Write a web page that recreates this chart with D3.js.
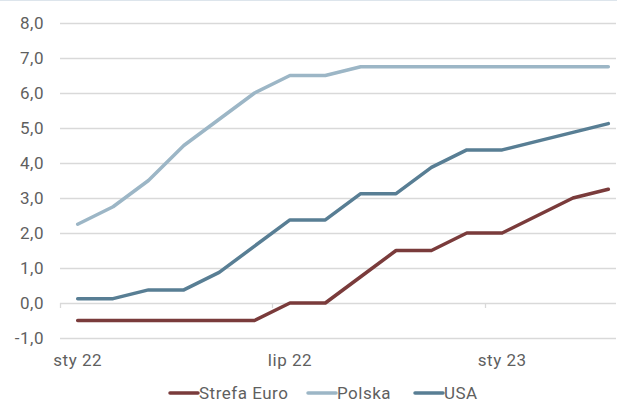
<!DOCTYPE html>
<html>
<head>
<meta charset="utf-8">
<script src="https://cdn.jsdelivr.net/npm/d3@7"></script>
<style>
  body { margin: 0; background: #fff; }
  svg text { font-family: Roboto, "Liberation Sans", sans-serif; fill: #5f5f5f; letter-spacing: 0.5px; }
</style>
</head>
<body>
<div id="chart"></div>
<script>
// months Jan 2022 .. Apr 2023
const months = ['2022-01', '2022-02', '2022-03', '2022-04', '2022-05', '2022-06',
  '2022-07', '2022-08', '2022-09', '2022-10', '2022-11', '2022-12',
  '2023-01', '2023-02', '2023-03', '2023-04'];
const monthLabels = {'2022-01': 'sty 22', '2022-07': 'lip 22', '2023-01': 'sty 23'};

const euro = [-0.5, -0.5, -0.5, -0.5, -0.5, -0.5, 0.0, 0.0, 0.75, 1.5, 1.5, 2.0, 2.0, 2.5, 3.0, 3.25];
const polska = [2.25, 2.75, 3.5, 4.5, 5.25, 6.0, 6.5, 6.5, 6.75, 6.75, 6.75, 6.75, 6.75, 6.75, 6.75, 6.75];
const usa = [0.125, 0.125, 0.375, 0.375, 0.875, 1.625, 2.375, 2.375, 3.125, 3.125, 3.875, 4.375, 4.375, 4.625, 4.875, 5.125];

const yTicks = [-1, 0, 1, 2, 3, 4, 5, 6, 7, 8];

const series = [
  {name: 'Strefa Euro', values: euro, color: '#7a3b3b'},
  {name: 'Polska', values: polska, color: '#9cb6c6'},
  {name: 'USA', values: usa, color: '#587e94'}
];

const width = 617, height = 402;
const svg = d3.select('#chart').append('svg')
  .attr('width', width)
  .attr('height', height);

// thin frame line at the very top
svg.append('line')
  .attr('x1', 0).attr('x2', width)
  .attr('y1', 0.5).attr('y2', 0.5)
  .attr('stroke', '#dde5ec');

const x = d3.scaleBand().domain(months).range([60, 626]);
const y = d3.scaleLinear().domain([-1, 8]).range([338, 23]);

// grid
svg.append('g')
  .selectAll('line')
  .data(yTicks)
  .join('line')
  .attr('x1', 60).attr('x2', 616)
  .attr('y1', d => Math.round(y(d)) + 0.5)
  .attr('y2', d => Math.round(y(d)) + 0.5)
  .attr('stroke', '#d9d9d9')
  .attr('stroke-width', 1.3);

// y labels, comma decimals and plain hyphen
svg.append('g')
  .selectAll('text')
  .data(yTicks)
  .join('text')
  .attr('x', 44)
  .attr('y', d => y(d))
  .attr('dy', '0.35em')
  .attr('text-anchor', 'end')
  .style('font-size', '17px')
  .text(d => d.toFixed(1).replace('.', ','));

// tick marks on zero line at half-year boundaries
const tickMonths = ['2022-01', '2022-07', '2023-01'];
svg.append('g')
  .selectAll('line')
  .data(tickMonths)
  .join('line')
  .attr('x1', d => Math.round(x(d)) + 0.5)
  .attr('x2', d => Math.round(x(d)) + 0.5)
  .attr('y1', y(0))
  .attr('y2', y(0) + 5)
  .attr('stroke', '#d9d9d9')
  .attr('stroke-width', 1.3);

// x labels
svg.append('g')
  .selectAll('text')
  .data(tickMonths)
  .join('text')
  .attr('x', d => x(d) + x.bandwidth() / 2)
  .attr('y', 360)
  .attr('dy', '0.35em')
  .attr('text-anchor', 'middle')
  .style('font-size', '17px')
  .text(d => monthLabels[d]);

const line = d3.line()
  .x((d, i) => x(months[i]) + x.bandwidth() / 2)
  .y(d => y(d));

svg.append('g')
  .selectAll('path')
  .data(series)
  .join('path')
  .attr('d', d => line(d.values))
  .attr('fill', 'none')
  .attr('stroke', d => d.color)
  .attr('stroke-width', 3.5)
  .attr('stroke-linejoin', 'round')
  .attr('stroke-linecap', 'round');

// legend
const legendX = [170, 308, 415];
const legend = svg.append('g')
  .selectAll('g')
  .data(series)
  .join('g')
  .attr('transform', (d, i) => 'translate(' + legendX[i] + ',393)');
legend.append('line')
  .attr('x1', 0).attr('x2', 28)
  .attr('stroke', d => d.color)
  .attr('stroke-width', 3.5)
  .attr('stroke-linecap', 'round');
legend.append('text')
  .attr('x', 29)
  .attr('dy', '0.35em')
  .style('font-size', '17px')
  .text(d => d.name);
</script>
</body>
</html>
